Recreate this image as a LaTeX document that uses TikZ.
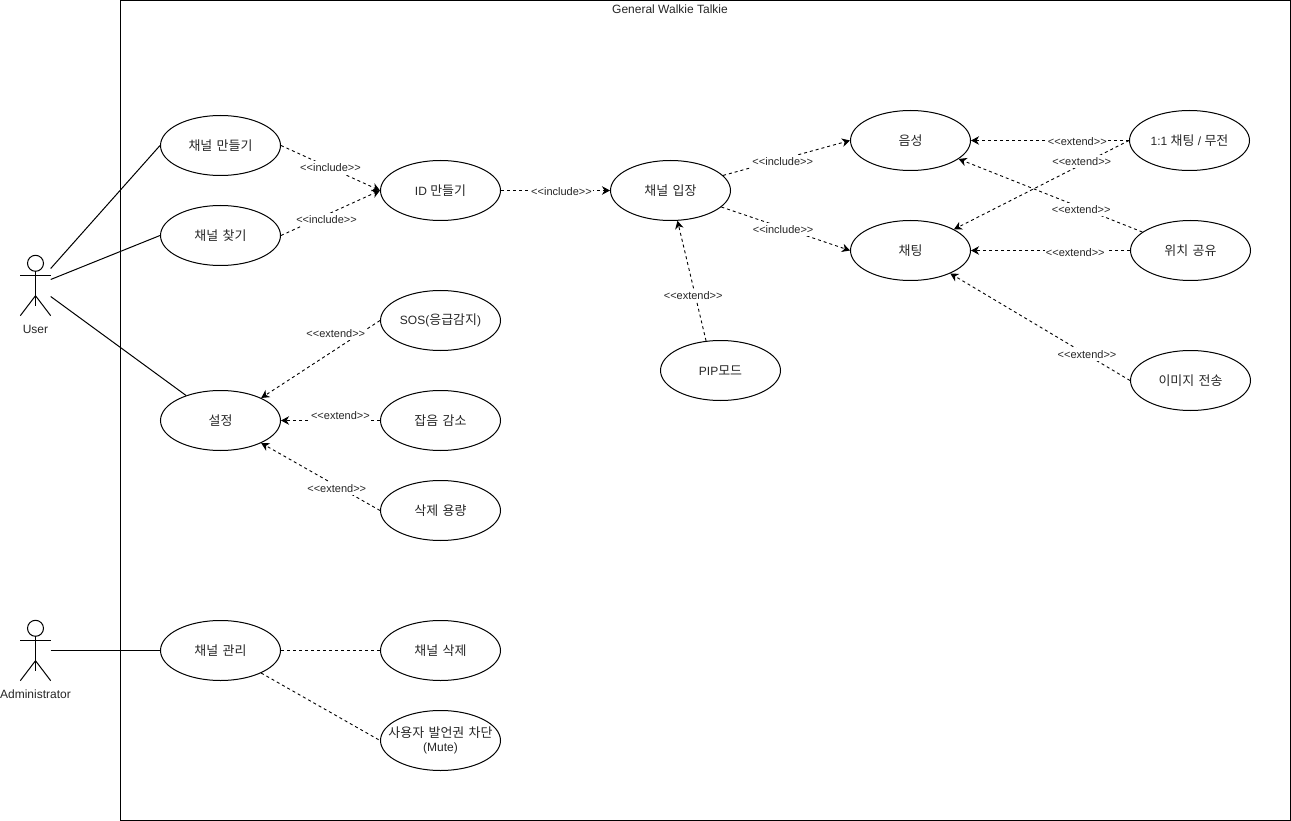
\documentclass[tikz,border=0pt]{standalone}
\usepackage{fontspec}
\setmainfont{Liberation Sans}
\newfontfamily\kr[Scale=1.08,WordSpace=1.5]{Noto Sans CJK KR}
\usetikzlibrary{shapes.geometric,arrows.meta}
\tikzset{
  uc/.style={ellipse,draw=black,line width=1pt,minimum width=120pt,minimum height=60pt,inner sep=0pt,align=center,font=\fontsize{12pt}{14.5pt}\selectfont,text=black!85},
  assoc/.style={draw=black,line width=1pt},
  plainlink/.style={draw=black,line width=.9pt,dash pattern=on 3pt off 3pt},
  deplink/.style={plainlink,-{Stealth[length=8pt,width=8.5pt,inset=2.5pt]}},
  lbl/.style={fill=white,inner xsep=1pt,inner ysep=2.5pt,text=black!85,font=\fontsize{11pt}{13pt}\selectfont},
  actorbox/.style={minimum width=30pt,minimum height=60pt,inner sep=0pt},
  actorlbl/.style={text=black!85,font=\fontsize{12pt}{14pt}\selectfont,inner sep=0pt},
  stick/.style={draw=black,line width=1pt},
  framebox/.style={draw=black,line width=1pt,minimum width=1170pt,minimum height=820pt,inner sep=0pt},
}
\newcommand{\stickman}[1]{%
  \draw[stick] ([yshift=-8pt]#1.north) circle (8pt);
  \draw[stick] ([yshift=-16pt]#1.north) -- ([yshift=10pt]#1.south);
  \draw[stick] ([yshift=10pt]#1.west) -- ([yshift=10pt]#1.east);
  \draw[stick] (#1.south west) -- ([yshift=20pt]#1.south) -- (#1.south east);
}
\begin{document}
\begin{tikzpicture}[x=1pt,y=-1pt]
\useasboundingbox (0,0) rectangle (1291,821);
\node[framebox] (frame) at (705.5,410.5) {};
\node[actorlbl] (title) at (670,9.5) {General Walkie Talkie};

\node[actorbox] (user) at (35.5,285.5) {};
\stickman{user}
\node[actorlbl] (userlbl) at (35.5,329) {User};
\node[actorbox] (admin) at (35.5,650.5) {};
\stickman{admin}
\node[actorlbl] (adminlbl) at (35.5,694) {Administrator};

\node[uc] (make) at (220.5,145.5) {\kr 채널 만들기};
\node[uc] (find) at (220.5,235.5) {\kr 채널 찾기};
\node[uc] (idm) at (440.5,190.5) {ID {\kr 만들기}};
\node[uc] (enter) at (670.5,190.5) {\kr 채널 입장};
\node[uc] (pip) at (720.5,370.5) {PIP{\kr 모드}};
\node[uc] (voice) at (910.5,140.5) {\kr 음성};
\node[uc] (chat) at (910.5,250.5) {\kr 채팅};
\node[uc] (one) at (1189.5,140.5) {1:1 {\kr 채팅} / {\kr 무전}};
\node[uc] (loc) at (1190.5,250.5) {\kr 위치 공유};
\node[uc] (img) at (1190.5,380.5) {\kr 이미지 전송};
\node[uc] (sos) at (440.5,320.5) {SOS({\kr 응급감지})};
\node[uc] (noise) at (440.5,420.5) {\kr 잡음 감소};
\node[uc] (del) at (440.5,510.5) {\kr 삭제 용량};
\node[uc] (set) at (220.5,420.5) {\kr 설정};
\node[uc] (mng) at (220.5,650.5) {\kr 채널 관리};
\node[uc] (chdel) at (440.5,650.5) {\kr 채널 삭제};
\node[uc,inner xsep=-25pt,inner ysep=-5pt] (mute) at (440.5,740.5) {{\kr 사용자 발언권 차단}\\(Mute)};

\draw[assoc] ([yshift=17pt]user.east) -- (make.west);
\draw[assoc] ([yshift=6pt]user.east) -- (find.west);
\draw[assoc] ([yshift=-11pt]user.east) -- (set.144);
\draw[assoc] (admin.east) -- (mng.west);

\draw[deplink] (make.east) -- node[lbl,pos=.5] {<{}<include>{}>} (idm.west);
\draw[deplink] (find.east) -- node[lbl,pos=.46,yshift=-5pt] {<{}<include>{}>} (idm.west);
\draw[deplink] (idm.east) -- node[lbl,pos=.555,yshift=-1pt] {<{}<include>{}>} (enter.west);
\draw[deplink] (enter.16) -- node[lbl,pos=.47,yshift=-3pt] {<{}<include>{}>} (voice.west);
\draw[deplink] (enter.-18) -- node[lbl,pos=.48,yshift=-1.5pt] {<{}<include>{}>} (chat.west);
\draw[deplink] (pip.116) -- node[lbl,pos=.38,xshift=-2pt] {<{}<extend>{}>} (enter.-77);
\draw[deplink] (one.west) -- node[lbl,pos=.327,yshift=-1pt] {<{}<extend>{}>} (voice.east);
\draw[deplink] (one.west) -- node[lbl,pos=.27,yshift=3pt] {<{}<extend>{}>} (chat.26);
\draw[deplink] (loc.159) -- node[lbl,pos=.333,yshift=-2pt] {<{}<extend>{}>} (voice.-21);
\draw[deplink] (loc.west) -- node[lbl,pos=.344,yshift=-2pt] {<{}<extend>{}>} (chat.east);
\draw[deplink] (img.west) -- node[lbl,pos=.239] {<{}<extend>{}>} (chat.-30);
\draw[deplink] (sos.west) -- node[lbl,pos=.372,yshift=16pt] {<{}<extend>{}>} (set.29);
\draw[deplink] (noise.west) -- node[lbl,pos=.4,yshift=5pt] {<{}<extend>{}>} (set.east);
\draw[deplink] (del.west) -- node[lbl,pos=.364,yshift=-3pt] {<{}<extend>{}>} (set.-29);
\draw[plainlink] (mng.east) -- (chdel.west);
\draw[plainlink] (mng.-29) -- (mute.west);
\end{tikzpicture}
\end{document}
